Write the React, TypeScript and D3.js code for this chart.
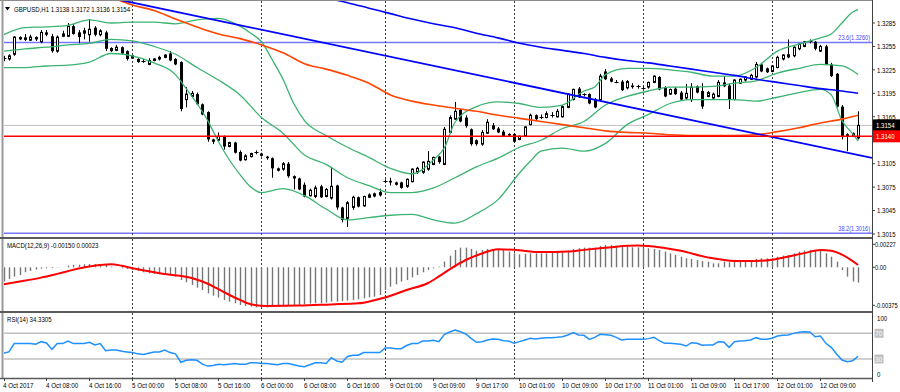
import React, { useEffect } from 'react';
import * as d3 from 'd3';

type OHLC = [number, number, number, number];
type Pt = [number, number];

// ---- header texts
const symbolTitle = 'GBPUSD,H1 1.3138 1.3172 1.3136 1.3154';
const macdTitle = 'MACD(12,26,9) -0.00150 0.00023';
const rsiTitle = 'RSI(14) 34.3305';

// ---- H1 candles, 4 Oct 00:00 .. 12 Oct 16:00  [open, high, low, close]
const candles: OHLC[] = [
  [1.3239, 1.3243, 1.3236, 1.324], [1.3239, 1.3245, 1.3237, 1.3243], [1.3245, 1.3268, 1.3243, 1.3267],
  [1.3267, 1.3268, 1.3263, 1.3264], [1.3264, 1.3271, 1.3262, 1.3266], [1.3263, 1.327, 1.3262, 1.3267],
  [1.3267, 1.3268, 1.3262, 1.3264], [1.3261, 1.3276, 1.3259, 1.3273], [1.3273, 1.3276, 1.3268, 1.327],
  [1.3268, 1.3271, 1.3247, 1.3249], [1.3249, 1.3269, 1.3247, 1.3267], [1.3268, 1.3275, 1.3267, 1.3271],
  [1.3268, 1.3285, 1.3267, 1.3281], [1.3281, 1.3284, 1.327, 1.3271], [1.3273, 1.3276, 1.3259, 1.3267],
  [1.3272, 1.3279, 1.3264, 1.3275], [1.327, 1.329, 1.3261, 1.3277], [1.3279, 1.3281, 1.3268, 1.327],
  [1.327, 1.3277, 1.3268, 1.3275], [1.3273, 1.3275, 1.3249, 1.3252], [1.3253, 1.3254, 1.3248, 1.3249],
  [1.325, 1.3257, 1.3249, 1.3254], [1.3254, 1.3255, 1.3245, 1.3246], [1.3249, 1.325, 1.3237, 1.3239],
  [1.324, 1.3244, 1.3239, 1.3243], [1.3239, 1.324, 1.3234, 1.3235], [1.3236, 1.3239, 1.3234, 1.3237],
  [1.3232, 1.324, 1.3231, 1.3237], [1.3237, 1.324, 1.3236, 1.3239], [1.3239, 1.3243, 1.3237, 1.3241],
  [1.3241, 1.3245, 1.324, 1.3244], [1.3246, 1.3249, 1.3236, 1.3237], [1.3239, 1.324, 1.3231, 1.3232],
  [1.3235, 1.3236, 1.3172, 1.3175], [1.3187, 1.3203, 1.3177, 1.3194], [1.3191, 1.3198, 1.3189, 1.3195],
  [1.3194, 1.3196, 1.318, 1.3181], [1.3181, 1.3182, 1.3167, 1.3168], [1.3171, 1.3172, 1.3133, 1.3136],
  [1.3136, 1.3137, 1.313, 1.3133], [1.3135, 1.3145, 1.3133, 1.314], [1.314, 1.3141, 1.3123, 1.3127],
  [1.3127, 1.3133, 1.3126, 1.3132], [1.3132, 1.3133, 1.3118, 1.3119], [1.312, 1.3122, 1.3108, 1.3109],
  [1.311, 1.3117, 1.3109, 1.3115], [1.3114, 1.3119, 1.3113, 1.3118], [1.3119, 1.3122, 1.3117, 1.312],
  [1.3118, 1.3119, 1.3114, 1.3115], [1.3114, 1.3115, 1.311, 1.3112], [1.3112, 1.3113, 1.3087, 1.3099],
  [1.3099, 1.31, 1.3095, 1.3096], [1.3098, 1.3107, 1.3096, 1.3105], [1.3105, 1.3107, 1.3087, 1.3089],
  [1.3089, 1.309, 1.3072, 1.3086], [1.3086, 1.3087, 1.3071, 1.3072], [1.3078, 1.3081, 1.3062, 1.3063],
  [1.3064, 1.3073, 1.3063, 1.3071], [1.3063, 1.3077, 1.3061, 1.3074], [1.3076, 1.3078, 1.3061, 1.3062],
  [1.3063, 1.3074, 1.3062, 1.3072], [1.3061, 1.3101, 1.3059, 1.3076], [1.3077, 1.3078, 1.3046, 1.3049],
  [1.3049, 1.305, 1.303, 1.3033], [1.3035, 1.3057, 1.3024, 1.3055], [1.3049, 1.3064, 1.3046, 1.3062],
  [1.3062, 1.3063, 1.3049, 1.305], [1.3051, 1.3064, 1.305, 1.3063], [1.3062, 1.3067, 1.3061, 1.3065],
  [1.3067, 1.3068, 1.3062, 1.3063], [1.3065, 1.3073, 1.3063, 1.3068], [1.3082, 1.3085, 1.308, 1.3083],
  [1.3083, 1.3087, 1.3077, 1.3081], [1.3081, 1.3082, 1.3077, 1.3078], [1.3081, 1.3082, 1.3073, 1.3074],
  [1.3076, 1.3086, 1.3074, 1.3085], [1.3082, 1.3099, 1.3081, 1.3098], [1.3094, 1.3101, 1.3092, 1.3099],
  [1.3094, 1.3108, 1.3092, 1.3107], [1.3098, 1.3121, 1.3096, 1.3108], [1.3104, 1.3114, 1.3103, 1.3113],
  [1.3114, 1.3115, 1.3105, 1.3107], [1.3104, 1.3152, 1.3103, 1.3149], [1.3145, 1.3167, 1.3144, 1.3164],
  [1.3162, 1.3184, 1.3161, 1.3172], [1.3174, 1.3175, 1.3158, 1.3159], [1.3164, 1.3167, 1.3151, 1.3153],
  [1.3149, 1.315, 1.3128, 1.313], [1.3135, 1.3136, 1.3128, 1.313], [1.313, 1.3148, 1.3128, 1.3145],
  [1.3144, 1.3162, 1.3143, 1.3158], [1.3154, 1.3157, 1.3148, 1.3149], [1.315, 1.3152, 1.3144, 1.3145],
  [1.3146, 1.3148, 1.3139, 1.314], [1.3143, 1.3144, 1.314, 1.3141], [1.3143, 1.3144, 1.3132, 1.3133],
  [1.3136, 1.3141, 1.3135, 1.314], [1.314, 1.3153, 1.3139, 1.3152], [1.3155, 1.3169, 1.3154, 1.3167],
  [1.3167, 1.3168, 1.3161, 1.3162], [1.3164, 1.3168, 1.3162, 1.3165], [1.3164, 1.3172, 1.3163, 1.3169],
  [1.3168, 1.3171, 1.3164, 1.3167], [1.3165, 1.3175, 1.3164, 1.3172], [1.3165, 1.318, 1.3164, 1.3178],
  [1.3177, 1.3195, 1.3176, 1.3194], [1.3187, 1.3201, 1.3186, 1.32], [1.3201, 1.3203, 1.3189, 1.319],
  [1.3193, 1.3195, 1.3191, 1.3194], [1.3194, 1.3195, 1.3181, 1.3182], [1.3187, 1.3189, 1.3176, 1.3177],
  [1.3187, 1.322, 1.3186, 1.3217], [1.3223, 1.3226, 1.3212, 1.3213], [1.3214, 1.3216, 1.3209, 1.321],
  [1.321, 1.3212, 1.3208, 1.3209], [1.321, 1.3212, 1.3198, 1.3199], [1.3202, 1.3212, 1.32, 1.321],
  [1.3205, 1.3208, 1.3201, 1.3203], [1.3203, 1.3206, 1.3201, 1.3204], [1.3203, 1.3204, 1.32, 1.3202],
  [1.3203, 1.321, 1.3201, 1.3209], [1.3209, 1.3218, 1.3208, 1.3217], [1.3216, 1.3217, 1.3199, 1.32],
  [1.3203, 1.3204, 1.319, 1.3191], [1.3194, 1.3201, 1.3193, 1.32], [1.3201, 1.3203, 1.3193, 1.3194],
  [1.3196, 1.3198, 1.3186, 1.3187], [1.3189, 1.3207, 1.3187, 1.3195], [1.3187, 1.3208, 1.3184, 1.3203],
  [1.3204, 1.3205, 1.3195, 1.3196], [1.3198, 1.3208, 1.3175, 1.3178], [1.3191, 1.3198, 1.319, 1.3196],
  [1.3189, 1.3196, 1.3187, 1.3194], [1.3191, 1.3212, 1.319, 1.3209], [1.3209, 1.3217, 1.3203, 1.3204],
  [1.3205, 1.3207, 1.3175, 1.3187], [1.3187, 1.3213, 1.3186, 1.3212], [1.3208, 1.3214, 1.3207, 1.3213],
  [1.3212, 1.3217, 1.321, 1.3216], [1.3213, 1.322, 1.3212, 1.3218], [1.3216, 1.3235, 1.3214, 1.3232],
  [1.3232, 1.3234, 1.3222, 1.3223], [1.3227, 1.3228, 1.3221, 1.3222], [1.3223, 1.3231, 1.3222, 1.323],
  [1.3228, 1.3243, 1.3227, 1.3241], [1.3239, 1.3245, 1.3237, 1.3244], [1.3245, 1.3264, 1.324, 1.3241],
  [1.3243, 1.3255, 1.3241, 1.3254], [1.3252, 1.3259, 1.325, 1.3258], [1.3255, 1.3262, 1.3254, 1.3261],
  [1.3261, 1.3264, 1.3259, 1.3262], [1.3261, 1.3262, 1.325, 1.3252], [1.3249, 1.3257, 1.3248, 1.3255],
  [1.3255, 1.3257, 1.3231, 1.3232], [1.3232, 1.3234, 1.3216, 1.3217], [1.322, 1.3221, 1.3177, 1.3178],
  [1.3178, 1.318, 1.3136, 1.3139], [1.314, 1.3144, 1.3121, 1.3142], [1.3144, 1.3145, 1.3139, 1.314],
  [1.3138, 1.3172, 1.3136, 1.3154],
];

// ---- Bollinger bands, read at [bar, price]
const bbUpper: Pt[] = [
  [0, 1.327], [4, 1.3279], [8, 1.328], [12, 1.3282], [16, 1.3289], [20, 1.3285], [24, 1.3286], [28, 1.3286],
  [32, 1.3284], [36, 1.3289], [40, 1.3291], [44, 1.3281], [46, 1.3272], [48, 1.3261], [50, 1.3238], [52, 1.3213],
  [54, 1.3182], [56, 1.316], [60, 1.3141], [64, 1.3126], [68, 1.3113], [72, 1.3099], [76, 1.3092], [80, 1.311],
  [82, 1.3125], [84, 1.3158], [88, 1.3178], [92, 1.3184], [96, 1.3182], [100, 1.3177], [104, 1.318], [108, 1.3198],
  [110, 1.3203], [112, 1.3219], [116, 1.3227], [120, 1.3227], [124, 1.3225], [128, 1.3222], [132, 1.3217],
  [136, 1.3217], [140, 1.3228], [144, 1.3249], [148, 1.3258], [152, 1.3266], [154, 1.3271], [156, 1.3285],
  [158, 1.3299], [159, 1.3302],
];
const bbMiddle: Pt[] = [
  [0, 1.3249], [4, 1.3252], [8, 1.3254], [12, 1.3257], [16, 1.3259], [20, 1.3264], [24, 1.3262], [28, 1.3255],
  [32, 1.3245], [36, 1.3228], [40, 1.3212], [44, 1.3193], [48, 1.3164], [52, 1.3144], [56, 1.3116], [60, 1.3104],
  [64, 1.3087], [68, 1.3077], [72, 1.3068], [76, 1.3068], [80, 1.3074], [84, 1.3087], [88, 1.3101], [92, 1.3112],
  [96, 1.3126], [100, 1.3135], [104, 1.315], [108, 1.3159], [112, 1.318], [116, 1.3191], [120, 1.3198],
  [124, 1.3203], [128, 1.3203], [132, 1.3204], [136, 1.3208], [140, 1.3211], [144, 1.3221], [148, 1.3227],
  [152, 1.3232], [156, 1.323], [159, 1.3219],
];
const bbLower: Pt[] = [
  [0, 1.3228], [4, 1.3228], [8, 1.323], [12, 1.3231], [16, 1.3235], [20, 1.3246], [24, 1.3243], [28, 1.3234],
  [32, 1.3219], [34, 1.3201], [36, 1.3182], [38, 1.316], [40, 1.3133], [42, 1.311], [44, 1.3091], [46, 1.3075],
  [48, 1.3068], [52, 1.3073], [56, 1.3064], [60, 1.3047], [64, 1.3033], [68, 1.3036], [72, 1.3039], [76, 1.304],
  [80, 1.3033], [84, 1.3029], [88, 1.3041], [92, 1.3059], [96, 1.3093], [98, 1.3108], [100, 1.3121], [104, 1.3125],
  [108, 1.3121], [112, 1.3131], [116, 1.3155], [120, 1.3168], [124, 1.3182], [128, 1.3187], [132, 1.3187],
  [136, 1.3187], [140, 1.3185], [144, 1.319], [148, 1.3196], [152, 1.32], [154, 1.3193], [156, 1.316],
  [158, 1.3143], [159, 1.3134],
];

// ---- long moving average (orange) and slow blue average
const maOrange: Pt[] = [
  [20, 1.3318], [24, 1.3308], [28, 1.3301], [32, 1.329], [36, 1.328], [40, 1.3271], [44, 1.3265], [48, 1.3257],
  [52, 1.3247], [56, 1.3233], [60, 1.3226], [64, 1.3218], [68, 1.3208], [72, 1.3193], [76, 1.3185], [80, 1.318],
  [84, 1.3176], [88, 1.3172], [92, 1.3167], [96, 1.3163], [100, 1.3159], [104, 1.3155], [108, 1.3151],
  [112, 1.3147], [116, 1.3145], [120, 1.3144], [124, 1.3142], [128, 1.3141], [132, 1.3141], [136, 1.3141],
  [140, 1.3142], [144, 1.3146], [148, 1.3151], [152, 1.3157], [156, 1.3162], [159, 1.3167],
];
const maBlue: Pt[] = [
  [60, 1.3317], [64, 1.3311], [68, 1.3304], [72, 1.3297], [76, 1.329], [80, 1.3284], [84, 1.3279], [88, 1.3272],
  [92, 1.3266], [96, 1.3259], [100, 1.3254], [104, 1.325], [108, 1.3246], [112, 1.3241], [116, 1.3237],
  [120, 1.3234], [124, 1.323], [128, 1.3226], [132, 1.3222], [136, 1.3218], [140, 1.3213], [144, 1.3209],
  [148, 1.3205], [152, 1.3201], [156, 1.3198], [159, 1.3195],
];

// ---- trend line (ray) anchors, horizontal levels
const trendAnchors: Pt[] = [[22, 1.3314], [159, 1.3116]];
const fibLevels = [
  { price: 1.326, label: '23.6(1.3260)' },
  { price: 1.3016, label: '38.2(1.3016)' },
];
const redLevel = 1.314;
const bidPrice = 1.3154;

// ---- MACD main (histogram) and signal
const macdHist = [
  -0.00141, -0.00115, -0.00092, -0.00076, -0.00049, -0.00036, -0.00023, -0.00013, -0.0001, -0.00008,
  -0.00003, 0.00001, 0.00016, 0.00023, 0.00026, 0.0003, 0.00033, 0.00033, 0.0003, 0.00023,
  0.00007, 0.00001, -0.0001, -0.00016, -0.00026, -0.00036, -0.00049, -0.00059, -0.00066, -0.00069,
  -0.00076, -0.00082, -0.00092, -0.00125, -0.00148, -0.00174, -0.00201, -0.00224, -0.00257, -0.0028,
  -0.00299, -0.00322, -0.00339, -0.00355, -0.00372, -0.00382, -0.00388, -0.00395, -0.00398, -0.00395,
  -0.00392, -0.00388, -0.00385, -0.00382, -0.00378, -0.00372, -0.00365, -0.00359, -0.00355, -0.00355,
  -0.00349, -0.00339, -0.00339, -0.00332, -0.00329, -0.00322, -0.00316, -0.00306, -0.00296, -0.0029,
  -0.00273, -0.00224, -0.00191, -0.00168, -0.00141, -0.00125, -0.00099, -0.00076, -0.00049, -0.00026,
  -0.0001, 0.00007, 0.00056, 0.00115, 0.00171, 0.00194, 0.00194, 0.00181, 0.00165, 0.00171,
  0.00181, 0.00181, 0.00181, 0.00171, 0.00155, 0.00138, 0.00128, 0.00132, 0.00138, 0.00138,
  0.00138, 0.00138, 0.00145, 0.00148, 0.00155, 0.00165, 0.00181, 0.00188, 0.00194, 0.00194,
  0.00194, 0.00211, 0.0022, 0.0022, 0.00214, 0.00204, 0.00204, 0.00197, 0.00197, 0.00194,
  0.00188, 0.00181, 0.00171, 0.00155, 0.00138, 0.00122, 0.00105, 0.00089, 0.00082, 0.00072,
  0.00063, 0.00056, 0.00039, 0.00039, 0.00056, 0.00049, 0.00056, 0.00056, 0.00063, 0.00072,
  0.00082, 0.00089, 0.00089, 0.00089, 0.00105, 0.00115, 0.00122, 0.00138, 0.00155, 0.00165,
  0.00171, 0.00165, 0.00165, 0.00138, 0.00105, 0.00056, -0.00026, -0.00092, -0.00141, -0.0015,
];
const macdSignal: Pt[] = [
  [0, -0.00168], [3, -0.00141], [7, -0.00102], [10, -0.00065], [14, -0.00012], [18, 0.00023], [20, 0.0003],
  [22, 0.00015], [24, -0.00009], [27, -0.0004], [30, -0.00066], [35, -0.00105], [38, -0.00162], [41, -0.00245],
  [44, -0.00322], [46, -0.00365], [49, -0.00382], [55, -0.00378], [61, -0.00366], [66, -0.00356], [69, -0.00325],
  [71, -0.00298], [75, -0.00224], [79, -0.00155], [81, -0.0009], [83, -0.0002], [86, 0.00072], [89, 0.00136],
  [92, 0.00178], [95, 0.00172], [100, 0.0015], [105, 0.00156], [108, 0.00172], [111, 0.00188], [114, 0.00204],
  [118, 0.00214], [120, 0.00211], [123, 0.0019], [126, 0.00163], [131, 0.00098], [136, 0.00063], [140, 0.00063],
  [143, 0.00075], [145, 0.00095], [149, 0.0014], [152, 0.00171], [154, 0.00163], [156, 0.00125], [159, 0.00023],
];

// ---- RSI(14)
const rsi = [
  39, 41, 54, 54, 54, 54, 53, 57, 55, 45,
  54, 54, 58, 54, 54, 54, 56, 52, 54, 43,
  44, 44, 42, 41, 40, 38, 37, 39, 41, 41,
  44, 40, 38, 25, 28, 29, 28, 22, 19, 20,
  22, 21, 22, 23, 22, 22, 24, 24, 23, 23,
  22, 21, 23, 23, 21, 19, 18, 21, 24, 24,
  23, 32, 27, 25, 34, 36, 36, 40, 40, 40,
  40, 47, 47, 46, 46, 51, 54, 54, 58, 58,
  59, 57, 68, 72, 75.1, 72.5, 68.9, 62.2, 56, 57,
  59.6, 61.1, 60.6, 58.5, 58, 54.4, 57, 59.6, 62.2, 61.1,
  62.2, 63.2, 63.2, 63.7, 64.7, 67.3, 71, 67.3, 66.8, 60.6,
  63.7, 68.4, 67.9, 66.8, 63.7, 59.6, 60.6, 60.6, 60.6, 60.6,
  61.7, 63.7, 58.5, 54.4, 54.4, 53.9, 52.8, 50.2, 55.4, 54.4,
  51.3, 51.8, 51.8, 57, 56.5, 48.2, 57, 58, 58.5, 59.6,
  63.2, 60.6, 60.6, 62.2, 65.8, 66.8, 67.3, 69.9, 71.5, 72.5,
  72, 64.7, 65.8, 54.4, 48.2, 37.8, 28.5, 25.9, 27.4, 34.33,
];
const rsiLevels = [70, 30];

// ---- axes
const priceTicks = [1.3285, 1.3255, 1.3225, 1.3195, 1.3165, 1.3105, 1.3075, 1.3045, 1.3015];
const macdTicks: [number, string][] = [[0.00227, '0.00227'], [0, '0.00'], [-0.00375, '-0.00375']];
const rsiTicks = [100, 0];
const daySeparators = [24, 48, 71, 95, 119, 143];
const timeLabels: [number, string][] = [
  [0, '4 Oct 2017'], [8, '4 Oct 08:00'], [16, '4 Oct 16:00'], [24, '5 Oct 00:00'], [32, '5 Oct 08:00'],
  [40, '5 Oct 16:00'], [48, '6 Oct 00:00'], [56, '6 Oct 08:00'], [64, '6 Oct 16:00'], [72, '9 Oct 01:00'],
  [80, '9 Oct 09:00'], [88, '9 Oct 17:00'], [96, '10 Oct 01:00'], [104, '10 Oct 09:00'], [112, '10 Oct 17:00'],
  [120, '11 Oct 01:00'], [128, '11 Oct 09:00'], [136, '11 Oct 17:00'], [144, '12 Oct 01:00'], [152, '12 Oct 09:00'],
];

// ---- layout
const W = 900;
const H = 392;
const LEFT = 4;
const AXIS_X = 872;
const MAIN = { top: 1, bottom: 237 };
const MACDP = { top: 239, bottom: 311 };
const RSIP = { top: 313, bottom: 378 };
const FONT = "'Liberation Sans', Arial, sans-serif";

const x = d3.scaleLinear().domain([0, candles.length - 1]).range([3.5, 858.1]);
const yMain = d3.scaleLinear().domain([1.3015, 1.3285]).range([234, 23]);
const yMacd = d3.scaleLinear().domain([0, 0.00227]).range([267.3, 244.3]);
const yRsi = d3.scaleLinear().domain([0, 100]).range([378.3, 314]);

const bx = (i: number) => Math.round(x(i)) + 0.5;

// narrow screenshot text: 8px glyphs squeezed horizontally
const Txt: React.FC<{
  x: number; y: number; text: string; fill?: string; anchor?: 'start' | 'end' | 'middle'; k?: number;
}> = ({ x: tx, y, text, fill = '#000', anchor = 'start', k = 0.76 }) => (
  <text
    transform={`translate(${tx},${y}) scale(${k},1)`}
    dy="0.35em"
    fontFamily={FONT}
    fontSize={8}
    fill={fill}
    textAnchor={anchor}
  >
    {text}
  </text>
);

const App: React.FC = () => {
  useEffect(() => {
    document.body.style.margin = '0';
  }, []);

  const mainLine = d3.line<Pt>().x((d) => x(d[0])).y((d) => yMain(d[1])).curve(d3.curveMonotoneX);
  const sigLine = d3.line<Pt>().x((d) => x(d[0])).y((d) => yMacd(d[1])).curve(d3.curveMonotoneX);
  const rsiLine = d3.line<number>().x((_, i) => x(i)).y((d) => yRsi(d));

  // trend ray extended to the right edge
  const trend = d3.scaleLinear().domain([trendAnchors[0][0], trendAnchors[1][0]])
    .range([trendAnchors[0][1], trendAnchors[1][1]]);
  const endBar = x.invert(AXIS_X);

  const dashed = (top: number, bottom: number) =>
    daySeparators.map((b) => (
      <line key={`${top}-${b}`} x1={bx(b)} x2={bx(b)} y1={top} y2={bottom}
        stroke="#3a3a3a" strokeDasharray="2,2" />
    ));

  return (
    <svg width={W} height={H} style={{ position: 'fixed', left: 0, top: 0, display: 'block' }}>
      <defs>
        <clipPath id="clip-main"><rect x={LEFT} y={MAIN.top} width={AXIS_X - LEFT} height={MAIN.bottom - MAIN.top} /></clipPath>
        <clipPath id="clip-macd"><rect x={LEFT} y={MACDP.top} width={AXIS_X - LEFT} height={MACDP.bottom - MACDP.top} /></clipPath>
        <clipPath id="clip-rsi"><rect x={LEFT} y={RSIP.top} width={AXIS_X - LEFT} height={RSIP.bottom - RSIP.top} /></clipPath>
      </defs>
      <rect width={W} height={H} fill="#fff" />

      {/* Main pane */}
      <g clipPath="url(#clip-main)">
        {fibLevels.map((f) => (
          <line key={f.label} x1={LEFT} x2={AXIS_X} y1={yMain(f.price)} y2={yMain(f.price)} stroke="#7878ff" strokeWidth={1.5} />
        ))}
        <line x1={LEFT} x2={AXIS_X} y1={yMain(bidPrice)} y2={yMain(bidPrice)} stroke="#c0c0c0" />
        {dashed(MAIN.top, MAIN.bottom)}

        {candles.map(([o, h, l, c], i) => {
          const cx = bx(i);
          const yo = yMain(o);
          const yc = yMain(c);
          const top = Math.min(yo, yc);
          const bot = Math.max(yo, yc);
          return (
            <g key={i}>
              <line x1={cx} x2={cx} y1={yMain(h)} y2={yMain(l)} stroke="#000" />
              {bot - top < 1.2 ? (
                <line x1={cx - 2} x2={cx + 2} y1={Math.round(yc) + 0.5} y2={Math.round(yc) + 0.5} stroke="#000" />
              ) : c > o ? (
                <rect x={cx - 1} y={top} width={2} height={bot - top} fill="#fff" stroke="#000" />
              ) : (
                <rect x={cx - 1.5} y={top} width={3} height={bot - top} fill="#000" />
              )}
            </g>
          );
        })}

        <path d={mainLine(bbUpper) ?? ''} fill="none" stroke="#3cb371" strokeWidth={1.3} />
        <path d={mainLine(bbMiddle) ?? ''} fill="none" stroke="#3cb371" strokeWidth={1.3} />
        <path d={mainLine(bbLower) ?? ''} fill="none" stroke="#3cb371" strokeWidth={1.3} />
        <path d={mainLine(maOrange) ?? ''} fill="none" stroke="#ff4500" strokeWidth={1.6} />
        <path d={mainLine(maBlue) ?? ''} fill="none" stroke="#0000ff" strokeWidth={1.6} />
        <line x1={x(trendAnchors[0][0])} y1={yMain(trendAnchors[0][1])} x2={x(endBar)} y2={yMain(trend(endBar))}
          stroke="#0000ff" strokeWidth={1.8} />
        <line x1={LEFT} x2={AXIS_X} y1={yMain(redLevel)} y2={yMain(redLevel)} stroke="#ff0000" strokeWidth={1.5} />
      </g>

      {/* MACD pane */}
      <g clipPath="url(#clip-macd)">
        {dashed(MACDP.top, MACDP.bottom)}
        {macdHist.map((v, i) => (
          <line key={i} x1={bx(i)} x2={bx(i)} y1={yMacd(0)} y2={yMacd(v)} stroke="#767676" strokeWidth={1.4} />
        ))}
        <path d={sigLine(macdSignal) ?? ''} fill="none" stroke="#ff0000" strokeWidth={2} />
      </g>

      {/* RSI pane */}
      <g clipPath="url(#clip-rsi)">
        {rsiLevels.map((lv) => (
          <line key={lv} x1={LEFT} x2={AXIS_X} y1={yRsi(lv)} y2={yRsi(lv)} stroke="#c0c0c0" strokeWidth={1.6} />
        ))}
        {dashed(RSIP.top, RSIP.bottom)}
        <path d={rsiLine(rsi) ?? ''} fill="none" stroke="#1e90ff" strokeWidth={1.5} />
      </g>

      {/* Frames */}
      <line x1={0} x2={AXIS_X} y1={0.5} y2={0.5} stroke="#8a8a8a" />
      <line x1={2.5} x2={2.5} y1={0} y2={RSIP.bottom} stroke="#9a9a9a" strokeWidth={2} />
      <line x1={0} x2={AXIS_X} y1={238} y2={238} stroke="#5a5a5a" strokeWidth={2} />
      <line x1={0} x2={AXIS_X} y1={312} y2={312} stroke="#5a5a5a" strokeWidth={2} />
      <line x1={0} x2={AXIS_X} y1={378.5} y2={378.5} stroke="#5a5a5a" strokeWidth={1.5} />
      <line x1={AXIS_X + 0.5} x2={AXIS_X + 0.5} y1={0} y2={382} stroke="#404040" />

      {/* Titles */}
      <path d="M5,7 L10,7 L7.5,10.5 Z" fill="#000" />
      <Txt x={14} y={9} text={symbolTitle} />
      <Txt x={7} y={245} text={macdTitle} />
      <Txt x={7} y={319} text={rsiTitle} />
      {fibLevels.map((f) => (
        <Txt key={f.label} x={870} y={yMain(f.price) - 5} text={f.label} anchor="end" fill="#4646ff" k={0.7} />
      ))}

      {/* Price axis */}
      {priceTicks.map((p) => (
        <g key={p}>
          <line x1={AXIS_X} x2={AXIS_X + 3} y1={yMain(p)} y2={yMain(p)} stroke="#404040" />
          <Txt x={877} y={yMain(p)} text={p.toFixed(4)} />
        </g>
      ))}
      <rect x={873} y={yMain(bidPrice) - 6} width={27} height={12} fill="#000" />
      <Txt x={876} y={yMain(bidPrice)} text={bidPrice.toFixed(4)} fill="#fff" />
      <rect x={873} y={yMain(redLevel) - 6} width={27} height={12} fill="#ff0000" />
      <Txt x={876} y={yMain(redLevel)} text={redLevel.toFixed(4)} fill="#fff" />

      {/* MACD axis */}
      {macdTicks.map(([v, s]) => (
        <g key={s}>
          <line x1={AXIS_X} x2={AXIS_X + 3} y1={yMacd(v)} y2={yMacd(v)} stroke="#404040" />
          <Txt x={875} y={Math.min(yMacd(v), MACDP.bottom - 4)} text={s} k={0.72} />
        </g>
      ))}

      {/* RSI axis */}
      {rsiTicks.map((v) => (
        <Txt key={v} x={877} y={Math.max(Math.min(yRsi(v), RSIP.bottom - 4), RSIP.top + 5)} text={String(v)} />
      ))}
      {rsiLevels.map((v) => (
        <g key={v}>
          <rect x={874.5} y={yRsi(v) - 4.5} width={9} height={9} fill="#c0c0c0" />
          <Txt x={875.3} y={yRsi(v)} text={String(v)} fill="#fff" />
        </g>
      ))}

      {/* Time axis */}
      {timeLabels.map(([b, s]) => (
        <g key={s}>
          <line x1={bx(b)} x2={bx(b)} y1={378} y2={381} stroke="#404040" />
          <Txt x={x(b) - 0.5} y={385} text={s} k={0.78} />
        </g>
      ))}
    </svg>
  );
};

export default App;
